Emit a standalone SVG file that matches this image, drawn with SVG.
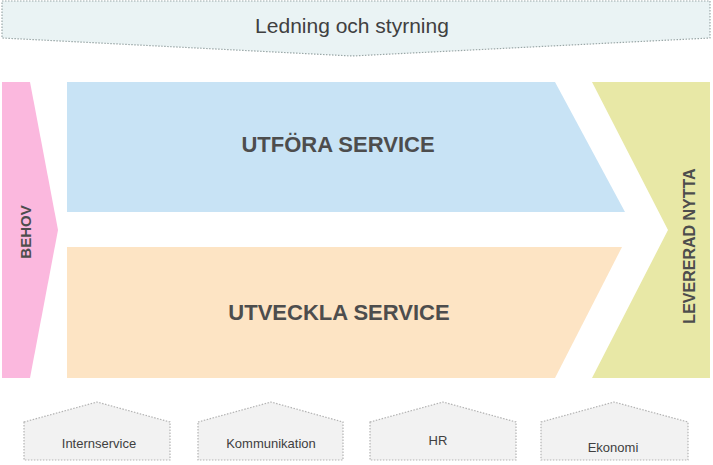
<svg xmlns="http://www.w3.org/2000/svg" width="713" height="465" viewBox="0 0 713 465">
<style>
.d{stroke:#9aa7a7;stroke-width:1.2;stroke-dasharray:1.5 1.5}
.h{fill:#f2f2f2;stroke:#b3b3b3;stroke-width:1.2;stroke-dasharray:1.5 1.5}
.t{font-family:"Liberation Sans",Arial,sans-serif;fill:#404040}
.b{font-family:"Liberation Sans",Arial,sans-serif;font-weight:bold;fill:#4d4d4d}
</style>
<rect width="713" height="465" fill="#fff"/>
<g id="ledning"><polygon class="d" fill="#eaf3f4" points="2,1 710,1 710,38 352,56 2,38"/><text class="t" x="352" y="33" font-size="21" text-anchor="middle">Ledning och styrning</text></g>
<g id="behov"><polygon fill="#fbb8de" points="2,82 30,82 58,230 30,378 2,378"/><text class="b" font-size="15" transform="translate(31,232) rotate(-90)" text-anchor="middle">BEHOV</text></g>
<g id="utfora"><polygon fill="#c8e3f5" points="67,82 555,82 625,212 67,212"/><text class="b" x="338" y="152" font-size="22" text-anchor="middle">UTFÖRA SERVICE</text></g>
<g id="utveckla"><polygon fill="#fde4c4" points="67,247 622,247 555,378 67,378"/><text class="b" x="339" y="320" font-size="22" text-anchor="middle">UTVECKLA SERVICE</text></g>
<g id="nytta"><polygon fill="#e8e8a6" points="592,82 710,82 710,378 592,378 668,230"/><text class="b" font-size="16" transform="translate(695,246) rotate(-90)" text-anchor="middle">LEVERERAD  NYTTA</text></g>
<g id="internservice"><polygon class="h" points="24,422 97,402 170,422 170,460 24,460"/><text class="t" x="99" y="448" font-size="13" text-anchor="middle">Internservice</text></g>
<g id="kommunikation"><polygon class="h" points="198,422 271,402 343,422 343,460 198,460"/><text class="t" x="271" y="448" font-size="13" text-anchor="middle">Kommunikation</text></g>
<g id="hr"><polygon class="h" points="370,422 443,402 516,422 516,460 370,460"/><text class="t" x="438" y="445" font-size="13" text-anchor="middle">HR</text></g>
<g id="ekonomi"><polygon class="h" points="541,422 614,402 688,422 688,460 541,460"/><text class="t" x="613" y="452" font-size="13" text-anchor="middle">Ekonomi</text></g>
<g id="connectors"/>
</svg>
